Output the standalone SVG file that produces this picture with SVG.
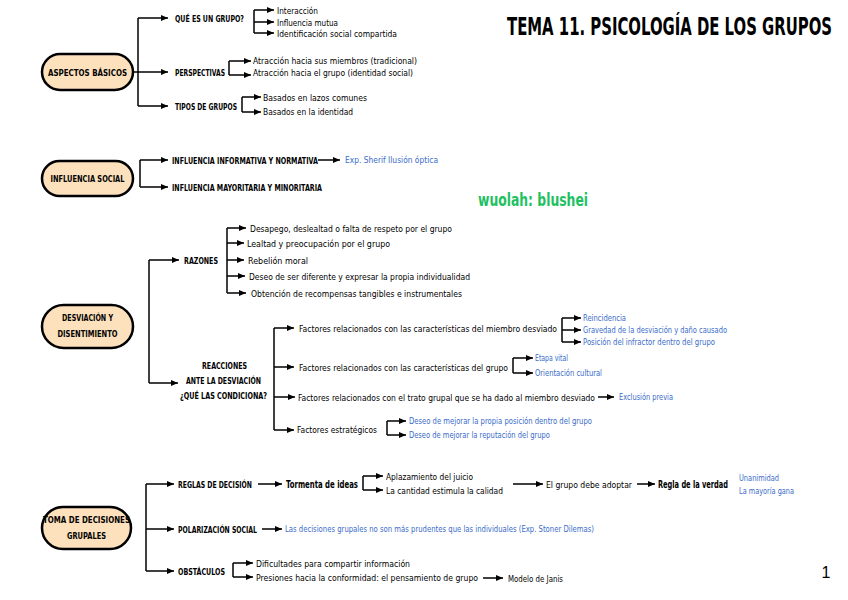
<svg xmlns="http://www.w3.org/2000/svg" width="848" height="600" viewBox="0 0 848 600">
<defs>
<marker id="ah" markerUnits="userSpaceOnUse" markerWidth="7" markerHeight="6" refX="7" refY="3" orient="auto">
<path d="M0,0 L7,3 L0,6 Z" fill="#000"/>
</marker>
<style>
.n{fill:#fde0bc;stroke:#000;stroke-width:2.5}
.nt{font-family:"DejaVu Sans Condensed","DejaVu Sans",sans-serif;font-weight:bold;font-size:9px;fill:#000;text-anchor:middle}
.h{font-family:"DejaVu Sans Condensed","DejaVu Sans",sans-serif;font-weight:bold;font-size:9px;fill:#000}
.t{font-family:"DejaVu Sans Condensed","DejaVu Sans",sans-serif;font-size:9.5px;fill:#000}
.tb{font-family:"DejaVu Sans Condensed","DejaVu Sans",sans-serif;font-size:10px;font-weight:bold;fill:#000}
.b{font-family:"DejaVu Sans Condensed","DejaVu Sans",sans-serif;font-size:8.5px;fill:#3a6cc9}
.c path{fill:none;stroke:#000;stroke-width:1.5}
.c path.a{marker-end:url(#ah)}
</style>
</defs>
<rect width="848" height="600" fill="#fff"/>

<text transform="translate(507,35) scale(1,1.55)" x="0" y="0" font-family="DejaVu Sans Condensed,DejaVu Sans,sans-serif" font-weight="bold" font-size="16.5" textLength="325" lengthAdjust="spacingAndGlyphs">TEMA 11. PSICOLOGÍA DE LOS GRUPOS</text>
<text x="478" y="206" font-family="DejaVu Sans Condensed,DejaVu Sans,sans-serif" font-weight="bold" font-size="18" fill="#1ec15f" textLength="110" lengthAdjust="spacingAndGlyphs">wuolah: blushei</text>
<text x="826" y="578" font-family="Liberation Sans,sans-serif" font-size="16" text-anchor="middle">1</text>

<g id="node-aspectos">
<rect class="n" x="42" y="54" width="91" height="36" rx="18"/>
<text class="nt" x="87.5" y="75.5" textLength="79" lengthAdjust="spacingAndGlyphs">ASPECTOS BÁSICOS</text>
</g>
<g id="node-influencia">
<rect class="n" x="42" y="161" width="91" height="35" rx="17.5"/>
<text class="nt" x="87.5" y="181.5" textLength="74" lengthAdjust="spacingAndGlyphs">INFLUENCIA SOCIAL</text>
</g>
<g id="node-desviacion">
<rect class="n" x="42" y="305" width="91" height="43" rx="21.5"/>
<text class="nt" x="87.5" y="321" textLength="51" lengthAdjust="spacingAndGlyphs">DESVIACIÓN Y</text>
<text class="nt" x="87.5" y="337" textLength="60" lengthAdjust="spacingAndGlyphs">DISENTIMIENTO</text>
</g>
<g id="node-toma">
<rect class="n" x="42" y="507" width="89" height="42" rx="21"/>
<text class="nt" x="86.5" y="523" textLength="87" lengthAdjust="spacingAndGlyphs">TOMA DE DECISIONES</text>
<text class="nt" x="86.5" y="539" textLength="39" lengthAdjust="spacingAndGlyphs">GRUPALES</text>
</g>

<g id="connectors" class="c">
<path d="M138,18 V106"/>
<path class="a" d="M138,18 H168"/>
<path class="a" d="M133,72 H168"/>
<path class="a" d="M138,106 H168"/>
<path d="M254,10 V33"/>
<path class="a" d="M254,10 H274"/>
<path class="a" d="M254,22 H274"/>
<path class="a" d="M254,33 H274"/>
<path d="M229,61 V75"/>
<path class="a" d="M229,61 H251"/>
<path class="a" d="M229,75 H251"/>
<path d="M242,97 V112"/>
<path class="a" d="M242,97 H261"/>
<path class="a" d="M242,112 H261"/>
<path d="M140,160 V187"/>
<path class="a" d="M140,160 H168"/>
<path class="a" d="M140,187 H168"/>
<path class="a" d="M318,160 H340"/>
<path d="M149,260 V383"/>
<path class="a" d="M149,260 H179"/>
<path class="a" d="M149,383 H178"/>
<path d="M227,228 V293"/>
<path class="a" d="M227,228 H246"/>
<path class="a" d="M227,243 H244"/>
<path class="a" d="M227,260 H244"/>
<path class="a" d="M227,276 H245"/>
<path class="a" d="M227,293 H246"/>
<path d="M274,328 V430"/>
<path class="a" d="M274,328 H294"/>
<path class="a" d="M274,367 H294"/>
<path class="a" d="M274,397 H295"/>
<path class="a" d="M274,430 H294"/>
<path d="M562,318 V342"/>
<path class="a" d="M562,318 H581"/>
<path class="a" d="M562,330 H581"/>
<path class="a" d="M562,342 H581"/>
<path d="M513,358 V373"/>
<path class="a" d="M513,358 H533"/>
<path class="a" d="M513,373 H533"/>
<path class="a" d="M598,397 H614"/>
<path d="M387,421 V435"/>
<path class="a" d="M387,421 H406"/>
<path class="a" d="M387,435 H406"/>
<path d="M146,484 V571"/>
<path class="a" d="M146,484 H174"/>
<path class="a" d="M146,529 H174"/>
<path class="a" d="M146,571 H174"/>
<path class="a" d="M258,484 H282"/>
<path d="M363,476 V490"/>
<path class="a" d="M363,476 H383"/>
<path class="a" d="M363,490 H383"/>
<path class="a" d="M513,484 H543"/>
<path class="a" d="M637,484 H655"/>
<path class="a" d="M262,529 H282"/>
<path d="M233,563 V577"/>
<path class="a" d="M233,563 H253"/>
<path class="a" d="M233,577 H253"/>
<path class="a" d="M483,578 H503"/>
</g>

<g id="labels">
<text class="h" x="175" y="21.5" textLength="69" lengthAdjust="spacingAndGlyphs">QUÉ ES UN GRUPO?</text>
<text class="h" x="175" y="75.5" textLength="50" lengthAdjust="spacingAndGlyphs">PERSPECTIVAS</text>
<text class="h" x="175" y="109.5" textLength="62" lengthAdjust="spacingAndGlyphs">TIPOS DE GRUPOS</text>
<text class="t" x="277" y="13.5" textLength="41" lengthAdjust="spacingAndGlyphs">Interacción</text>
<text class="t" x="277" y="25.5" textLength="61" lengthAdjust="spacingAndGlyphs">Influencia mutua</text>
<text class="t" x="277" y="36.5" textLength="120" lengthAdjust="spacingAndGlyphs">Identificación social compartida</text>
<text class="t" x="253" y="64" textLength="164" lengthAdjust="spacingAndGlyphs">Atracción hacia sus miembros (tradicional)</text>
<text class="t" x="253" y="76" textLength="160" lengthAdjust="spacingAndGlyphs">Atracción hacia el grupo (identidad social)</text>
<text class="t" x="263" y="100.5" textLength="104" lengthAdjust="spacingAndGlyphs">Basados en lazos comunes</text>
<text class="t" x="263" y="115" textLength="90" lengthAdjust="spacingAndGlyphs">Basados en la identidad</text>
<text class="h" x="172" y="163.5" font-size="8" textLength="146" lengthAdjust="spacingAndGlyphs">INFLUENCIA INFORMATIVA Y NORMATIVA</text>
<text class="b" x="345" y="163" textLength="93" lengthAdjust="spacingAndGlyphs">Exp. Sherif Ilusión óptica</text>
<text class="h" x="172" y="190.5" textLength="150" lengthAdjust="spacingAndGlyphs">INFLUENCIA MAYORITARIA Y MINORITARIA</text>
<text class="h" x="184" y="264" textLength="34" lengthAdjust="spacingAndGlyphs">RAZONES</text>
<text class="t" x="250" y="231.5" textLength="202" lengthAdjust="spacingAndGlyphs">Desapego, deslealtad o falta de respeto por el grupo</text>
<text class="t" x="247" y="246.5" textLength="143" lengthAdjust="spacingAndGlyphs">Lealtad y preocupación por el grupo</text>
<text class="t" x="248" y="263.5" textLength="60" lengthAdjust="spacingAndGlyphs">Rebelión moral</text>
<text class="t" x="249" y="279.5" textLength="221" lengthAdjust="spacingAndGlyphs">Deseo de ser diferente y expresar la propia individualidad</text>
<text class="t" x="251" y="296.5" textLength="211" lengthAdjust="spacingAndGlyphs">Obtención de recompensas tangibles e instrumentales</text>
<text class="nt" x="224.5" y="369" textLength="45" lengthAdjust="spacingAndGlyphs">REACCIONES</text>
<text class="nt" x="223.5" y="384" textLength="75" lengthAdjust="spacingAndGlyphs">ANTE LA DESVIACIÓN</text>
<text class="nt" x="223.5" y="398.5" textLength="87" lengthAdjust="spacingAndGlyphs">¿QUÉ LAS CONDICIONA?</text>
<text class="t" x="299" y="331.5" textLength="258" lengthAdjust="spacingAndGlyphs">Factores relacionados con las características del miembro desviado</text>
<text class="b" x="583" y="321" textLength="43" lengthAdjust="spacingAndGlyphs">Reincidencia</text>
<text class="b" x="583" y="333" textLength="144" lengthAdjust="spacingAndGlyphs">Gravedad de la desviación y daño causado</text>
<text class="b" x="583" y="345" textLength="132" lengthAdjust="spacingAndGlyphs">Posición del infractor dentro del grupo</text>
<text class="t" x="299" y="370.5" textLength="209" lengthAdjust="spacingAndGlyphs">Factores relacionados con las características del grupo</text>
<text class="b" x="535" y="361" textLength="33" lengthAdjust="spacingAndGlyphs">Etapa vital</text>
<text class="b" x="535" y="376" textLength="67" lengthAdjust="spacingAndGlyphs">Orientación cultural</text>
<text class="t" x="298" y="400.5" font-size="9" textLength="297" lengthAdjust="spacingAndGlyphs">Factores relacionados con el trato grupal que se ha dado al miembro desviado</text>
<text class="b" x="619" y="400" textLength="54" lengthAdjust="spacingAndGlyphs">Exclusión previa</text>
<text class="t" x="297" y="432.5" textLength="80" lengthAdjust="spacingAndGlyphs">Factores estratégicos</text>
<text class="b" x="409" y="424" textLength="183" lengthAdjust="spacingAndGlyphs">Deseo de mejorar la propia posición dentro del grupo</text>
<text class="b" x="409" y="438" textLength="141" lengthAdjust="spacingAndGlyphs">Deseo de mejorar la reputación del grupo</text>
<text class="h" x="178" y="487.5" textLength="74" lengthAdjust="spacingAndGlyphs">REGLAS DE DECISIÓN</text>
<text class="tb" x="286" y="487.5" textLength="72" lengthAdjust="spacingAndGlyphs">Tormenta de ideas</text>
<text class="t" x="386" y="479.5" textLength="87" lengthAdjust="spacingAndGlyphs">Aplazamiento del juicio</text>
<text class="t" x="386" y="493.5" textLength="117" lengthAdjust="spacingAndGlyphs">La cantidad estimula la calidad</text>
<text class="t" x="546" y="487.5" textLength="86" lengthAdjust="spacingAndGlyphs">El grupo debe adoptar</text>
<text class="tb" x="658" y="488" font-size="9.5" textLength="70" lengthAdjust="spacingAndGlyphs">Regla de la verdad</text>
<text class="b" x="739" y="480.5" textLength="40" lengthAdjust="spacingAndGlyphs">Unanimidad</text>
<text class="b" x="739" y="493.5" textLength="55" lengthAdjust="spacingAndGlyphs">La mayoría gana</text>
<text class="h" x="178" y="532.5" textLength="79" lengthAdjust="spacingAndGlyphs">POLARIZACIÓN SOCIAL</text>
<text class="b" x="285" y="532" textLength="309" lengthAdjust="spacingAndGlyphs">Las decisiones grupales no son más prudentes que las individuales (Exp. Stoner Dilemas)</text>
<text class="h" x="178" y="574.5" textLength="47" lengthAdjust="spacingAndGlyphs">OBSTÁCULOS</text>
<text class="t" x="256" y="566.5" textLength="154" lengthAdjust="spacingAndGlyphs">Dificultades para compartir información</text>
<text class="t" x="256" y="580.5" textLength="222" lengthAdjust="spacingAndGlyphs">Presiones hacia la conformidad: el pensamiento de grupo</text>
<text class="t" x="508" y="581.5" font-size="8" textLength="55" lengthAdjust="spacingAndGlyphs">Modelo de Janis</text>
</g>
</svg>
